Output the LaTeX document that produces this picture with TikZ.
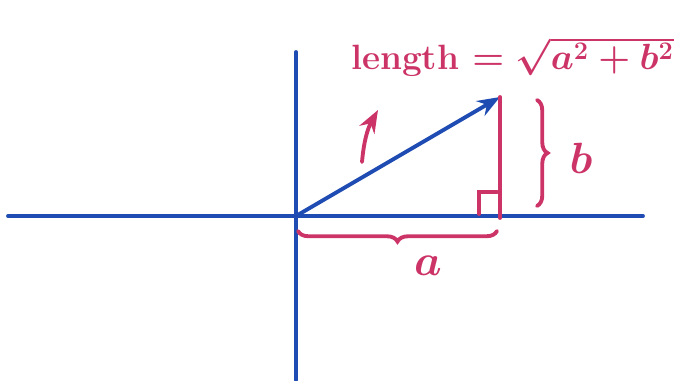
\documentclass[tikz,border=0pt]{standalone}
\usetikzlibrary{decorations.pathreplacing,arrows.meta}
\definecolor{bleu}{RGB}{30,76,178}
\definecolor{rose}{RGB}{204,52,104}

\begin{document}
\begin{tikzpicture}[x=0.02cm, y=-0.02cm, >=Stealth, line cap=round,
    trait/.style={line width=2.2pt}]
    \useasboundingbox (0,0) rectangle (681,381);

    % Axes
    \draw[trait, bleu] (8,216) -- (643,216);
    \draw[trait, bleu] (296,52) -- (296,380);

    % Origine, extremite, pied
    \coordinate (O) at (296,216);
    \coordinate (P) at (500,97);
    \coordinate (H) at (500,218);

    % Vecteur
    \draw[->, trait, bleu] (O) -- (P);

    % Cote b
    \draw[trait, rose] (P) -- (H);

    % Angle droit
    \draw[trait, rose] (479,214) -- (479,192) -- (497,192);

    % Accolade a
    \draw[trait, rose, decorate, decoration={brace, mirror, amplitude=6pt}]
        (298,231) -- (497,231);
    \node[rose, font=\fontsize{34}{34}\selectfont\boldmath] (la) at (428,266) {$a$};

    % Accolade b
    \draw[trait, rose, decorate, decoration={brace, amplitude=6pt}]
        (537,100) -- (537,206);
    \node[rose, font=\fontsize{40}{40}\selectfont\boldmath] (lb) at (581,158) {$b$};

    % Longueur
    \node[rose, anchor=base east, font=\fontsize{20}{20}\selectfont\bfseries\boldmath, inner sep=0pt]
        (long) at (674,70) {length $=\sqrt{a^2+b^2}$};

    % Angle
    \coordinate (A1) at (362,162);
    \coordinate (A2) at (378,110);
    \draw[->, trait, rose] (A1) to[bend left=12] (A2);
\end{tikzpicture}
\end{document}
